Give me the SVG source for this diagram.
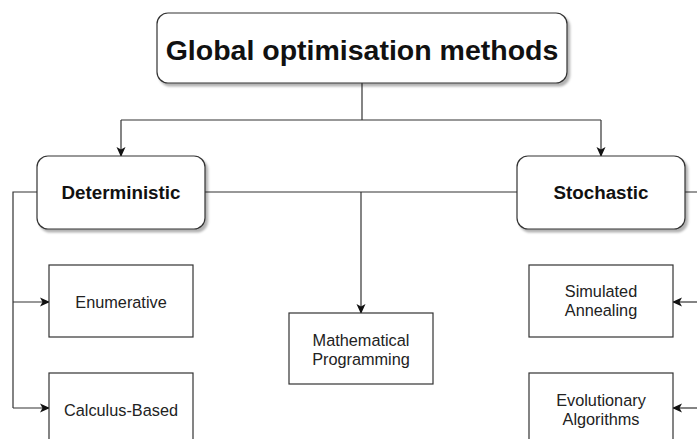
<svg xmlns="http://www.w3.org/2000/svg" width="697" height="439" viewBox="0 0 697 439">
<style>
.box{fill:#fff;stroke:#333;stroke-width:1.2}
.rbox{fill:#fff;stroke:#333;stroke-width:1.2;filter:url(#sh)}
.ln{fill:none;stroke:#333;stroke-width:1.2}
.arr{fill:none;stroke:#333;stroke-width:1.2;marker-end:url(#ah)}
.t{font-family:"Liberation Sans",Arial,sans-serif;font-size:16.3px;fill:#222;text-anchor:middle}
.b{font-family:"Liberation Sans",Arial,sans-serif;font-weight:bold;fill:#111;text-anchor:middle}
</style>
<defs>
<filter id="sh" x="-10%" y="-10%" width="130%" height="140%">
<feDropShadow dx="2.5" dy="3" stdDeviation="1.2" flood-color="#000" flood-opacity="0.3"/>
</filter>
<marker id="ah" markerWidth="12" markerHeight="12" refX="9" refY="5" orient="auto" markerUnits="userSpaceOnUse">
<path d="M0,0.5 L10,5 L0,9.5 L2.5,5 Z" fill="#111"/>
</marker>
</defs>
<g id="connectors">
<path class="ln" d="M362,83 V120"/>
<path class="ln" d="M121,120 H601"/>
<path class="arr" d="M121,120 V156"/>
<path class="arr" d="M601,120 V156"/>
<path class="ln" d="M205,192 H517"/>
<path class="arr" d="M361,192 V313"/>
<path class="ln" d="M37,192 H13 V408"/>
<path class="arr" d="M13,302 H49"/>
<path class="arr" d="M13,408 H49"/>
<path class="ln" d="M685,192 H705 V408"/>
<path class="arr" d="M705,302 H673"/>
<path class="arr" d="M705,408 H673"/>
</g>
<g id="global">
<rect class="rbox" x="157" y="13" width="410" height="70" rx="11"/>
<text class="b" x="362" y="60" font-size="28.5">Global optimisation methods</text>
</g>
<g id="deterministic">
<rect class="rbox" x="37" y="156" width="168" height="73" rx="11"/>
<text class="b" x="121" y="199" font-size="18.8">Deterministic</text>
</g>
<g id="stochastic">
<rect class="rbox" x="517" y="156" width="168" height="73" rx="11"/>
<text class="b" x="601" y="199" font-size="18.8">Stochastic</text>
</g>
<g id="enumerative">
<rect class="box" x="49" y="265" width="144" height="72"/>
<text class="t" x="121" y="307.5">Enumerative</text>
</g>
<g id="calculus">
<rect class="box" x="49" y="373" width="144" height="72"/>
<text class="t" x="121" y="416">Calculus-Based</text>
</g>
<g id="mathematical">
<rect class="box" x="289" y="313" width="144" height="71"/>
<text class="t" x="361" y="345.5">Mathematical</text>
<text class="t" x="361" y="364.5">Programming</text>
</g>
<g id="simulated">
<rect class="box" x="529" y="265" width="144" height="72"/>
<text class="t" x="601" y="296.5">Simulated</text>
<text class="t" x="601" y="315.5">Annealing</text>
</g>
<g id="evolutionary">
<rect class="box" x="529" y="373" width="144" height="72"/>
<text class="t" x="601" y="405.5">Evolutionary</text>
<text class="t" x="601" y="424.5">Algorithms</text>
</g>
</svg>
